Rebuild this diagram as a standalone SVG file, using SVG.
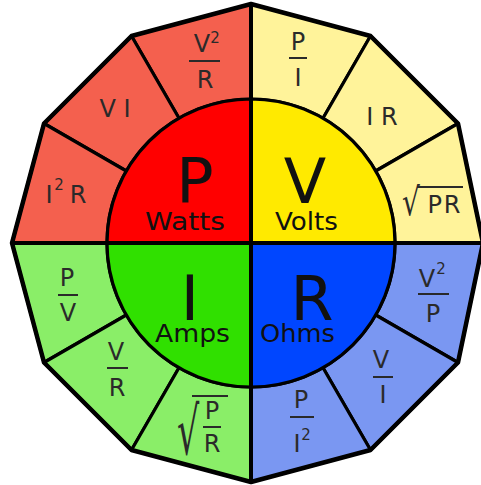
<svg xmlns="http://www.w3.org/2000/svg" width="481" height="485" viewBox="0 0 481 485">
<style>
.sec{stroke:#000;stroke-width:3.2;stroke-linejoin:round}
.r1{fill:#F4604E}.r2{fill:#FF0000}
.y1{fill:#FFF39A}.y2{fill:#FFEA00}
.g1{fill:#8AEE68}.g2{fill:#30E000}
.b1{fill:#7A97F2}.b2{fill:#0046FF}
.big{font-family:"DejaVu Sans",sans-serif;font-size:62px;fill:#111;text-anchor:middle}
.unit{font-family:"DejaVu Sans",sans-serif;font-size:25px;fill:#111}
.lbl{font-family:"DejaVu Sans",sans-serif;font-size:24px;fill:#2a2a2a;text-anchor:middle}
.rad{font-family:"DejaVu Sans",sans-serif;font-size:28px;fill:#2a2a2a}
.sup{font-family:"DejaVu Sans",sans-serif;font-size:15px;fill:#2a2a2a;text-anchor:middle}
.bar{stroke:#2a2a2a;stroke-width:2}
</style>
<rect width="481" height="485" fill="#fff"/>
<!-- outer sectors -->
<g id="s-v2r"><path class="sec r1" d="M251,4 L131.5,36 L179,118.3 A144,144 0 0 1 251,99 Z"/>
<text class="lbl" x="202" y="52">V</text><text class="sup" x="215" y="43">2</text><line class="bar" x1="189" y1="61" x2="220" y2="61"/><text class="lbl" x="205" y="88">R</text></g>
<g id="s-vi"><path class="sec r1" d="M131.5,36 L44,123.5 L126.3,171 A144,144 0 0 1 179,118.3 Z"/>
<text class="lbl" x="115" y="117">V I</text></g>
<g id="s-i2r"><path class="sec r1" d="M44,123.5 L12,243 L107,243 A144,144 0 0 1 126.3,171 Z"/>
<text class="lbl" x="49" y="203">I</text><text class="sup" x="59" y="190">2</text><text class="lbl" x="78" y="203">R</text></g>
<g id="s-pi"><path class="sec y1" d="M251,4 L370.5,36 L323,118.3 A144,144 0 0 0 251,99 Z"/>
<text class="lbl" x="298" y="50">P</text><line class="bar" x1="289" y1="58" x2="307" y2="58"/><text class="lbl" x="298" y="86">I</text></g>
<g id="s-ir"><path class="sec y1" d="M370.5,36 L458,123.5 L375.7,171 A144,144 0 0 0 323,118.3 Z"/>
<text class="lbl" x="382" y="125">I R</text></g>
<g id="s-sqpr"><path class="sec y1" d="M458,123.5 L483,243 L395,243 A144,144 0 0 0 375.7,171 Z"/>
<text class="rad" transform="translate(402,215) scale(1,1.38)">√</text><line class="bar" x1="417" y1="187" x2="463" y2="187"/><text class="lbl" x="444" y="213" textLength="33" lengthAdjust="spacing">PR</text></g>
<g id="s-pv"><path class="sec g1" d="M12,243 L44,362.5 L126.3,315 A144,144 0 0 1 107,243 Z"/>
<text class="lbl" x="67" y="286">P</text><line class="bar" x1="58" y1="295" x2="78" y2="295"/><text class="lbl" x="68" y="321">V</text></g>
<g id="s-vr"><path class="sec g1" d="M44,362.5 L131.5,450 L179,367.7 A144,144 0 0 1 126.3,315 Z"/>
<text class="lbl" x="116" y="360">V</text><line class="bar" x1="107" y1="368" x2="128" y2="368"/><text class="lbl" x="117" y="396">R</text></g>
<g id="s-sqpdr"><path class="sec g1" d="M131.5,450 L251,482 L251,387 A144,144 0 0 1 179,367.7 Z"/>
<text class="rad" transform="translate(177,454) scale(1.25,2.35)">√</text><line class="bar" x1="192" y1="396" x2="228" y2="396"/>
<text class="lbl" x="212" y="419">P</text><line class="bar" x1="203" y1="427" x2="221" y2="427"/><text class="lbl" x="212" y="452">R</text></g>
<g id="s-v2p"><path class="sec b1" d="M483,243 L458,362.5 L375.7,315 A144,144 0 0 0 395,243 Z"/>
<text class="lbl" x="427" y="287">V</text><text class="sup" x="441" y="274">2</text><line class="bar" x1="418" y1="294" x2="449" y2="294"/><text class="lbl" x="433" y="322">P</text></g>
<g id="s-vi2"><path class="sec b1" d="M458,362.5 L370.5,450 L323,367.7 A144,144 0 0 0 375.7,315 Z"/>
<text class="lbl" x="381" y="368">V</text><line class="bar" x1="373" y1="377" x2="393" y2="377"/><text class="lbl" x="383" y="403">I</text></g>
<g id="s-pi2"><path class="sec b1" d="M370.5,450 L251,482 L251,387 A144,144 0 0 0 323,367.7 Z"/>
<text class="lbl" x="301" y="408">P</text><line class="bar" x1="290" y1="417" x2="314" y2="417"/><text class="lbl" x="297" y="452">I</text><text class="sup" x="306" y="440">2</text></g>
<!-- inner quadrants -->
<g id="n-p"><path class="sec r2" d="M251,243 L107,243 A144,144 0 0 1 251,99 Z"/>
<text class="big" x="195" y="202">P</text><text class="unit" x="145" y="230" textLength="80" lengthAdjust="spacingAndGlyphs">Watts</text></g>
<g id="n-v"><path class="sec y2" d="M251,243 L251,99 A144,144 0 0 1 395,243 Z"/>
<text class="big" x="305" y="203">V</text><text class="unit" x="275" y="230" textLength="63" lengthAdjust="spacingAndGlyphs">Volts</text></g>
<g id="n-i"><path class="sec g2" d="M251,243 L251,387 A144,144 0 0 1 107,243 Z"/>
<text class="big" x="190" y="320">I</text><text class="unit" x="155" y="342" textLength="75" lengthAdjust="spacingAndGlyphs">Amps</text></g>
<g id="n-r"><path class="sec b2" d="M251,243 L395,243 A144,144 0 0 1 251,387 Z"/>
<text class="big" x="312" y="320">R</text><text class="unit" x="260" y="342" textLength="75" lengthAdjust="spacingAndGlyphs">Ohms</text></g>
<!-- frame -->
<g id="connectors" fill="none" stroke="#000">
<path stroke-width="4.5" stroke-linejoin="round" d="M251,4 L370.5,36 L458,123.5 L483,243 L458,362.5 L370.5,450 L251,482 L131.5,450 L44,362.5 L12,243 L44,123.5 L131.5,36 Z"/>
<line stroke-width="4" x1="251" y1="4" x2="251" y2="482"/>
<line stroke-width="4" x1="12" y1="243" x2="483" y2="243"/>
</g>
</svg>
